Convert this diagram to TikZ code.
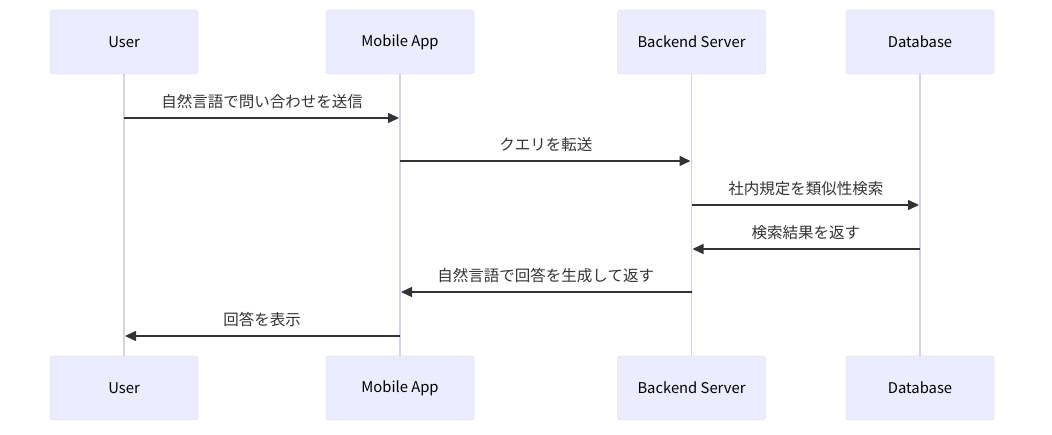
\documentclass[tikz,border=0pt]{standalone}
\usepackage{fontspec}
\setmainfont{Noto Sans CJK JP}
\usepackage{xcolor}
\usepackage{tikz}
\usetikzlibrary{arrows.meta}
\usetikzlibrary{positioning}
\definecolor{actorfill}{HTML}{ECECFF}
\definecolor{actorline}{HTML}{D8CEF4}
\definecolor{msgline}{HTML}{333333}
\tikzstyle{actor} = [rectangle, draw=actorline, fill=actorfill,
    rounded corners=3pt, minimum width=148pt, minimum height=64pt,
    font=\fontsize{14.8}{17}\selectfont, text=black]
\tikzstyle{lifeline} = [draw=actorline, line width=1.6pt]
\tikzstyle{msg} = [draw=msgline, line width=1.4pt, shorten >=1pt,
    -{Triangle[length=11pt,width=10pt]}]
\tikzstyle{msglabel} = [font=\fontsize{15.5}{18}\selectfont, text=msgline, yshift=16pt]

\begin{document}
\begin{tikzpicture}[x=1pt, y=1pt]
    \useasboundingbox (0,0) rectangle (1052,435);
    % Place actors
    \node [actor] (usert) at (124,393) {User};
    \node [actor] (appt) at (400,393) {Mobile App};
    \node [actor] (servt) at (691.5,393) {Backend Server};
    \node [actor] (dbt) at (920,393) {Database};
    \node [actor] (userb) at (124,47) {User};
    \node [actor] (appb) at (400,47) {Mobile App};
    \node [actor] (servb) at (691.5,47) {Backend Server};
    \node [actor] (dbb) at (920,47) {Database};

    % Lifelines
    \path [lifeline] (usert) -- (userb);
    \path [lifeline] (appt) -- (appb);
    \path [lifeline] (servt) -- (servb);
    \path [lifeline] (dbt) -- (dbb);

    % Message ends
    \coordinate (user1) at (usert |- 0,317);
    \coordinate (app1) at (appt |- 0,317);
    \coordinate (app2) at (appt |- 0,274);
    \coordinate (serv2) at (servt |- 0,274);
    \coordinate (serv3) at (servt |- 0,230);
    \coordinate (db3) at (dbt |- 0,230);
    \coordinate (db4) at (dbt |- 0,186);
    \coordinate (serv4) at (servt |- 0,186);
    \coordinate (serv5) at (servt |- 0,143);
    \coordinate (app5) at (appt |- 0,143);
    \coordinate (app6) at (appt |- 0,99);
    \coordinate (user6) at (usert |- 0,99);

    \path [msg] (user1) -- node [msglabel] {自然言語で問い合わせを送信} (app1);
    \path [msg] (app2) -- node [msglabel] {クエリを転送} (serv2);
    \path [msg] (serv3) -- node [msglabel] {社内規定を類似性検索} (db3);
    \path [msg] (db4) -- node [msglabel] {検索結果を返す} (serv4);
    \path [msg] (serv5) -- node [msglabel] {自然言語で回答を生成して返す} (app5);
    \path [msg] (app6) -- node [msglabel] {回答を表示} (user6);
\end{tikzpicture}
\end{document}
